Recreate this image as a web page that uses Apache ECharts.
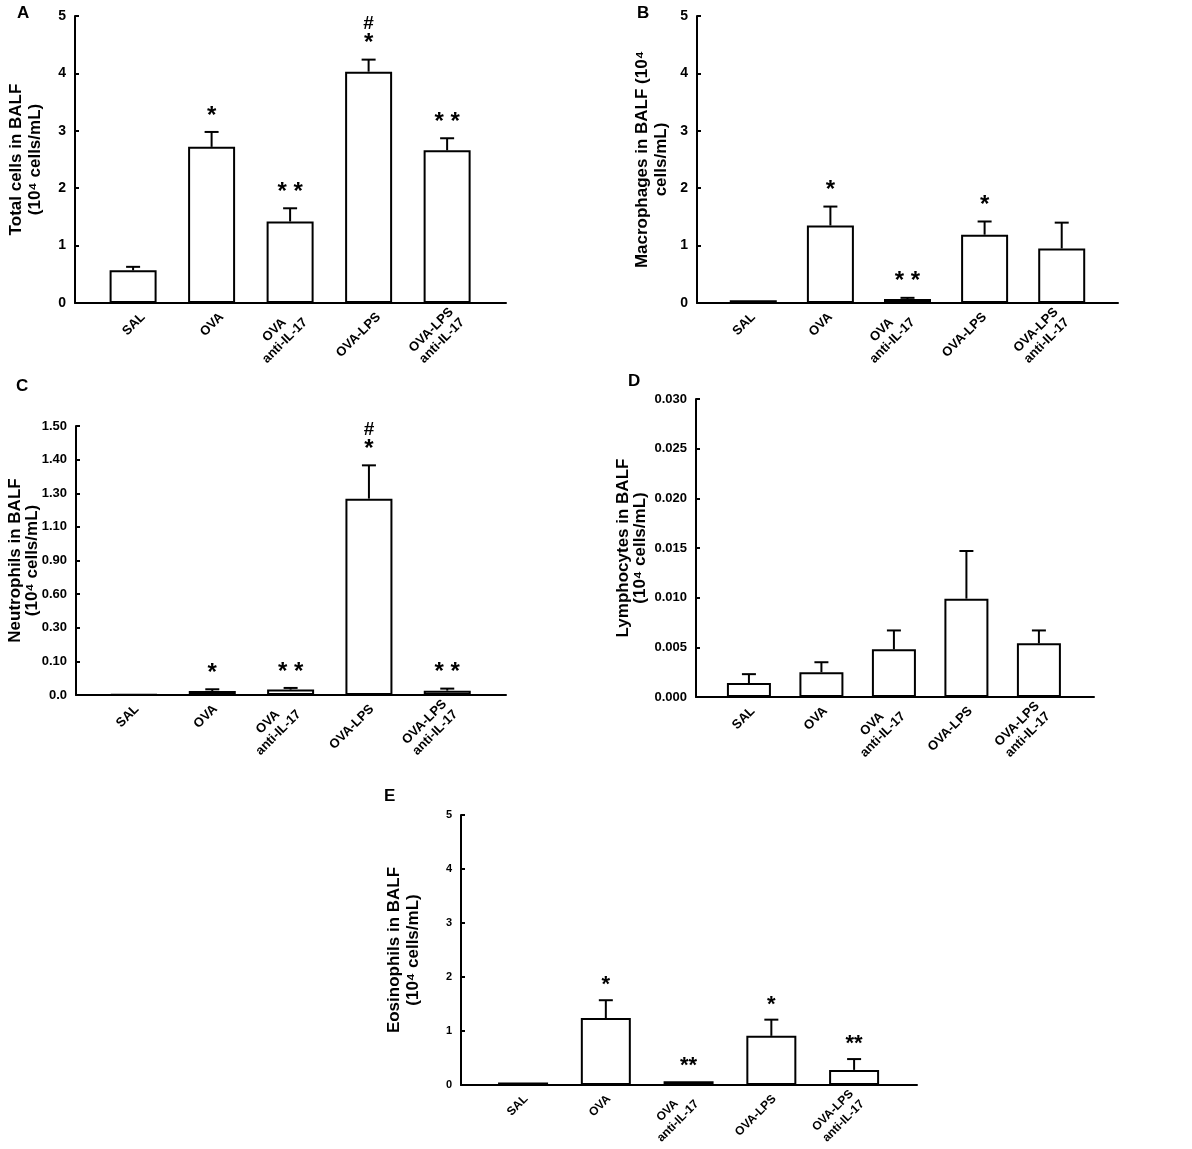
<!DOCTYPE html>
<html style="height: 100%">
<head>
<meta charset="UTF-8">
</head>
<body style="height: 100%; margin: 0; background: #fff">
<div id="container" style="width: 1192px; height: 1149px"></div>
<script src="https://cdn.jsdelivr.net/npm/echarts@6/dist/echarts.min.js"></script>
<script>
// groups on the x axis (same for every panel)
var groups = ['SAL', 'OVA', 'OVA\nanti-IL-17', 'OVA-LPS', 'OVA-LPS\nanti-IL-17'];

// A: total cells (mean, top of error bar, significance marks)
var totalMean = [0.57, 2.72, 1.42, 4.03, 2.66];
var totalErr = [0.63, 2.98, 1.65, 4.24, 2.87];
var totalMarks = ['', '*', '* *', '#\n*', '* *'];

// B: macrophages
var macroMean = [0.05, 1.35, 0.07, 1.19, 0.95];
var macroErr = [0.05, 1.68, 0.09, 1.42, 1.40];
var macroMarks = ['', '*', '* *', '*', ''];

// C: neutrophils (axis is broken into uneven steps)
var neutroMean = [0.002, 0.012, 0.016, 1.268, 0.013];
var neutroErr = [0.002, 0.017, 0.021, 1.383, 0.019];
var neutroMarks = ['', '*', '* *', '#\n*', '* *'];
var neutroTicks = [0, 0.10, 0.30, 0.60, 0.90, 1.10, 1.30, 1.40, 1.50];
var neutroTickLabels = ['0.0', '0.10', '0.30', '0.60', '0.90', '1.10', '1.30', '1.40', '1.50'];

// D: lymphocytes
var lymphoMean = [0.0014, 0.0025, 0.0048, 0.0099, 0.0054];
var lymphoErr = [0.0023, 0.0035, 0.0067, 0.0147, 0.0067];
var lymphoMarks = ['', '', '', '', ''];

// E: eosinophils
var eosinoMean = [0.045, 1.24, 0.07, 0.91, 0.28];
var eosinoErr = [0.045, 1.57, 0.08, 1.21, 0.48];
var eosinoMarks = ['', '*', '**', '*', '**'];

var FONT = '"Liberation Sans", Arial, sans-serif';

// value -> position on the uneven neutrophil axis (one unit per tick step)
function neutroPos(v) {
	for (var i = 0; i < neutroTicks.length - 1; i++) {
		if (v <= neutroTicks[i + 1]) {
			return i + (v - neutroTicks[i]) / (neutroTicks[i + 1] - neutroTicks[i]);
		}
	}
	return neutroTicks.length - 1;
}
function ident(v) { return v; }

var panels = [
	{ letter: 'A', lx: 12, ly: 0, left: 75, top: 16, width: 431, height: 287, xmin: -0.74, xmax: 4.75, barW: 47,
	  ymax: 5, yint: 1, name: 'Total cells in BALF\n(10⁴ cells/mL)', nameGap: 30, nameLh: 19, tickFs: 14, labShift: 10,
	  mean: totalMean, err: totalErr, marks: totalMarks, map: ident },
	{ letter: 'B', lx: 632, ly: 0, left: 697, top: 16, width: 421, height: 287, xmin: -0.73, xmax: 4.73, barW: 47,
	  ymax: 5, yint: 1, name: 'Macrophages in BALF (10⁴\ncells/mL)', nameGap: 26, nameLh: 19, tickFs: 14, labShift: 0,
	  mean: macroMean, err: macroErr, marks: macroMarks, map: ident },
	{ letter: 'C', lx: 11, ly: 373, left: 76, top: 426, width: 430, height: 269, xmin: -0.74, xmax: 4.75, barW: 47,
	  ymax: 8, yint: 1, name: 'Neutrophils in BALF\n(10⁴ cells/mL)', nameGap: 35, nameLh: 17, tickFs: 13, labShift: 3,
	  mean: neutroMean, err: neutroErr, marks: neutroMarks, map: neutroPos,
	  fmt: function (v) { return neutroTickLabels[Math.round(v)]; } },
	{ letter: 'D', lx: 623, ly: 368, left: 696, top: 399, width: 398, height: 298, xmin: -0.73, xmax: 4.76, barW: 44,
	  ymax: 0.03, yint: 0.005, name: 'Lymphocytes in BALF\n(10⁴ cells/mL)', nameGap: 47, nameLh: 17, tickFs: 13, labShift: 4,
	  mean: lymphoMean, err: lymphoErr, marks: lymphoMarks, map: ident,
	  fmt: function (v) { return v.toFixed(3); } },
	{ letter: 'E', lx: 379, ly: 783, left: 461, top: 815, width: 456, height: 270, xmin: -0.75, xmax: 4.76, barW: 50,
	  ymax: 5, yint: 1, name: 'Eosinophils in BALF\n(10⁴ cells/mL)', nameGap: 38, nameLh: 19, tickFs: 11, labShift: 3,
	  mean: eosinoMean, err: eosinoErr, marks: eosinoMarks, map: ident, small: true }
];

function errRender(marks, small) {
	return function (params, api) {
		var x = api.value(0), v = api.value(1), e = api.value(2);
		var p0 = api.coord([x, v]);
		var p1 = api.coord([x, e]);
		var kids = [];
		if (p0[1] - p1[1] > 1) {
			kids.push({ type: 'line', shape: { x1: p0[0], y1: p0[1], x2: p1[0], y2: p1[1] }, style: { stroke: '#000', lineWidth: 2 } });
			kids.push({ type: 'line', shape: { x1: p1[0] - 7, y1: p1[1], x2: p1[0] + 7, y2: p1[1] }, style: { stroke: '#000', lineWidth: 2 } });
		}
		var m = marks[params.dataIndex];
		if (m) {
			var lines = m.split('\n');
			kids.push({ type: 'text', x: p1[0], y: p1[1] - 4, style: {
				text: lines[lines.length - 1], fill: '#000', font: 'bold ' + (small ? 22 : 24) + 'px ' + FONT,
				align: 'center', verticalAlign: 'bottom' } });
			if (lines.length > 1) {
				kids.push({ type: 'text', x: p1[0], y: p1[1] - 36, style: {
					text: lines[0], fill: '#000', font: 'bold 19px ' + FONT,
					align: 'center', verticalAlign: 'middle' } });
			}
		}
		return { type: 'group', children: kids };
	};
}

var option = { animation: false, backgroundColor: '#fff', title: [], grid: [], xAxis: [], yAxis: [], series: [] };

panels.forEach(function (p, k) {
	var fs = p.small ? 12 : 13;
	// labels sit a few pixels right of each bar, as in the original figure
	var shift = p.labShift * (p.xmax - p.xmin) / p.width;
	var labelAt = [0, 1, 2, 3, 4].map(function (i) { return i + shift; });
	option.title.push({ text: p.letter, left: p.lx, top: p.ly, textStyle: { fontSize: 17, fontWeight: 'bold', color: '#000', fontFamily: FONT } });
	option.grid.push({ left: p.left, top: p.top, width: p.width, height: p.height, outerBoundsMode: 'none' });
	option.xAxis.push({
		type: 'value', gridIndex: k, min: p.xmin, max: p.xmax, splitLine: { show: false },
		axisLine: { onZero: false, lineStyle: { color: '#000', width: 2 } }, axisTick: { show: false },
		axisLabel: { customValues: labelAt, rotate: 45, margin: 12, color: '#000', fontWeight: 'bold',
			fontSize: fs, fontFamily: FONT, lineHeight: 15,
			formatter: function (v) {
				return groups[Math.round(v)].split('\n').map(function (s) { return '{c|' + s + '}'; }).join('\n');
			},
			rich: { c: { align: 'center', fontWeight: 'bold', fontSize: fs, fontFamily: FONT, color: '#000', lineHeight: 15 } } }
	});
	option.yAxis.push({
		type: 'value', gridIndex: k, min: 0, max: p.ymax, interval: p.yint, splitLine: { show: false },
		axisLine: { show: true, onZero: false, lineStyle: { color: '#000', width: 2 } },
		axisTick: { show: true, inside: true, length: 4, lineStyle: { color: '#000', width: 2 } },
		axisLabel: { color: '#000', fontWeight: 'bold', fontSize: p.tickFs, fontFamily: FONT, margin: 9, formatter: p.fmt },
		name: p.name, nameLocation: 'middle', nameGap: p.nameGap, nameRotate: 90, nameMoveOverlap: false,
		nameTextStyle: { color: '#000', fontWeight: 'bold', fontSize: 17, fontFamily: FONT, lineHeight: p.nameLh }
	});
	var bars = [], errs = [];
	for (var i = 0; i < groups.length; i++) {
		bars.push([i, p.map(p.mean[i])]);
		errs.push([i, p.map(p.mean[i]), p.map(p.err[i])]);
	}
	option.series.push({
		type: 'bar', xAxisIndex: k, yAxisIndex: k, data: bars, barWidth: p.barW,
		itemStyle: { color: '#fff', borderColor: '#000', borderWidth: 2 }, z: 2
	});
	option.series.push({
		type: 'custom', xAxisIndex: k, yAxisIndex: k, data: errs, z: 3,
		renderItem: errRender(p.marks, p.small)
	});
});

var myChart = echarts.init(document.getElementById('container'));
myChart.setOption(option);
</script>
</body>
</html>
